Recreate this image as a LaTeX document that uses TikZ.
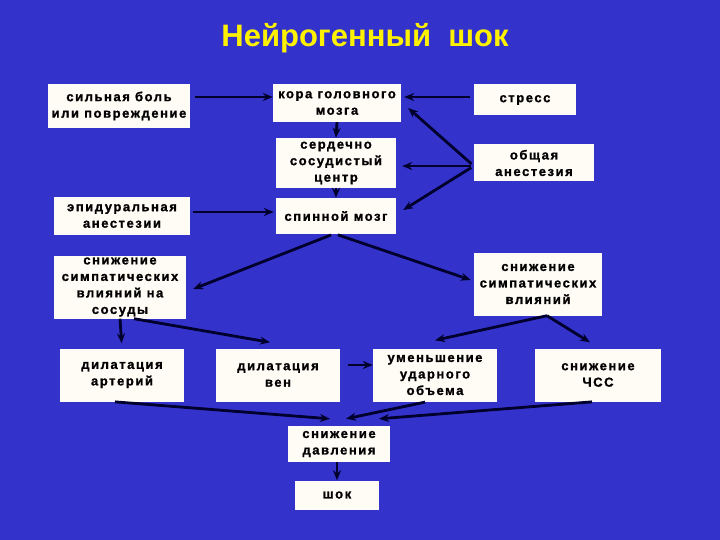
\documentclass[tikz,border=0pt]{standalone}
\usepackage{fontspec}
\setmainfont{Liberation Sans}
\newfontfamily\boxfont{Liberation Sans}[LetterSpace=12,FakeBold=1.2]
\usetikzlibrary{arrows.meta,positioning}
\definecolor{bgblue}{RGB}{51,51,204}
\definecolor{boxfill}{RGB}{255,252,246}
\definecolor{arrowc}{RGB}{0,0,45}

\begin{document}
\begin{tikzpicture}[x=1pt,y=-1pt,
			box/.style={fill=boxfill, align=center, inner sep=0pt,
				font=\boxfont\bfseries\fontsize{13}{16.5}\selectfont},
			ttl/.style={text=yellow, font=\bfseries\fontsize{31}{35}\selectfont},
			ar/.style={-{Stealth[length=10pt,width=8pt]}, line width=2.8pt, draw=arrowc}
			]
			\fill[bgblue] (0,0) rectangle (720,540);
			\useasboundingbox (0,0) rectangle (720,540);
			\node[ttl] (T) at (365,38) {Нейрогенный\ \ шок};
			% top row
			\node[box, minimum width=142, minimum height=44] (bol) at (119,106) {сильная боль\\или повреждение};
			\node[box, minimum width=128, minimum height=38] (kora) at (337,103) {кора головного\\мозга};
			\node[box, minimum width=102, minimum height=31] (stress) at (525,100) {стресс};
			\node[box, minimum width=120, minimum height=50] (serd) at (336,163) {сердечно\\сосудистый\\центр};
			\node[box, minimum width=120, minimum height=37] (obsh) at (534,163) {общая\\анестезия};
			\node[box, minimum width=136, minimum height=37] (epid) at (122,216) {эпидуральная\\анестезии};
			\node[box, minimum width=120, minimum height=36] (spin) at (336,216) {спинной мозг};
			% sympathetic level
			\node[box, minimum width=132, minimum height=63] (snsos) at (120,287) {снижение\\симпатических\\влияний на\\сосуды};
			\node[box, minimum width=128, minimum height=63] (snvl) at (538,284) {снижение\\симпатических\\влияний};
			% effects
			\node[box, minimum width=124, minimum height=53] (dilart) at (122,375) {дилатация\\артерий};
			\node[box, minimum width=124, minimum height=53] (dilven) at (278,375) {дилатация\\вен};
			\node[box, minimum width=124, minimum height=53] (umen) at (435,375) {уменьшение\\ударного\\объема};
			\node[box, minimum width=126, minimum height=53] (chss) at (598,375) {снижение\\ЧСС};
			\node[box, minimum width=102, minimum height=36] (davl) at (339,444) {снижение\\давления};
			\node[box, minimum width=84, minimum height=29] (shok) at (337,495) {шок};
			% connectors
			\draw[ar, shorten <=5pt] ([yshift=9pt]bol.east) -- ([yshift=6pt]kora.west);
			\draw[ar, shorten <=4pt, shorten >=3pt] ([yshift=3pt]stress.west) -- ([yshift=6pt]kora.east);
			\draw[ar] (kora.south) -- (serd.north);
			\draw[ar, shorten <=3pt] ([yshift=-3pt]obsh.west) -- ([xshift=7pt,yshift=-5pt]kora.east);
			\draw[ar, shorten <=3pt] ([yshift=-3pt]obsh.west) -- ([xshift=6pt,yshift=-3pt]serd.east);
			\draw[ar, shorten <=3pt] ([yshift=-3pt]obsh.west) -- ([xshift=7pt,yshift=6pt]spin.east);
			\draw[ar] (serd.south) -- (spin.north);
			\draw[ar, shorten <=3pt, shorten >=2pt] ([yshift=4pt]epid.east) -- ([yshift=4pt]spin.west);
			\draw[ar, shorten <=2pt] ([xshift=-3pt]spin.south) -- ([xshift=7pt,yshift=-2pt]snsos.east);
			\draw[ar, shorten <=2pt] (spin.south) -- ([xshift=-3pt,yshift=4pt]snvl.west);
			\draw[ar, shorten >=5pt] (snsos.south) -- (dilart.north);
			\draw[ar] ([xshift=14pt]snsos.south) -- ([xshift=-8pt,yshift=6pt]dilven.north);
			\draw[ar] ([xshift=9pt]snvl.south) -- ([yshift=8pt]umen.north);
			\draw[ar] ([xshift=9pt]snvl.south) -- ([xshift=-8pt,yshift=6pt]chss.north);
			\draw[ar, shorten <=8pt] ([yshift=10pt]dilven.east) -- ([yshift=10pt]umen.west);
			\draw[ar, shorten <=2pt] ([xshift=-9pt]dilart.south) -- ([xshift=-9pt,yshift=7pt]davl.north);
			\draw[ar, shorten <=2pt] ([xshift=-8pt]umen.south) -- ([xshift=7pt,yshift=7pt]davl.north);
			\draw[ar, shorten <=2pt] ([xshift=-4pt]chss.south) -- ([xshift=40pt,yshift=7pt]davl.north);
			\draw[ar] ([xshift=-2pt]davl.south) -- ([xshift=-2pt]davl.south |- shok.north);
\end{tikzpicture}
\end{document}
